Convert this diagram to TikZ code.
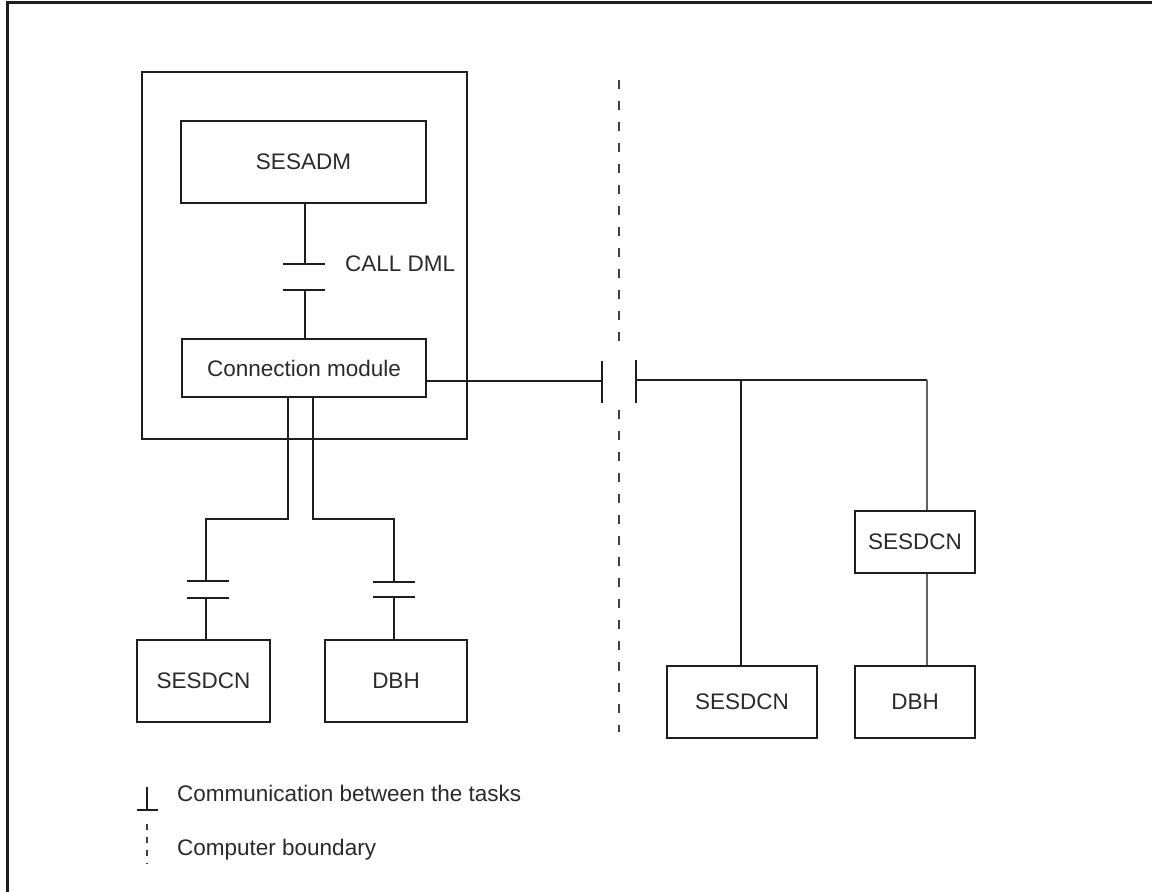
\documentclass[tikz,border=0pt]{standalone}
\usepackage{fontspec}
\setmainfont{Liberation Sans}
\usetikzlibrary{calc}
\definecolor{ink}{HTML}{1E1E1E}
\definecolor{txt}{HTML}{2A2A2A}
\tikzset{
  box/.style={draw=ink, line width=2.6pt, inner sep=0pt, text=txt,
    font=\fontsize{22.5}{27}\selectfont},
  wire/.style={draw=ink, line width=2.6pt},
  thinwire/.style={draw=ink!70, line width=1.7pt},
  bar/.style={draw=ink, line width=2.8pt},
  boundary/.style={draw=ink!85, line width=2.4pt, dash pattern=on 9pt off 12pt},
  lbl/.style={text=txt, font=\fontsize{22.5}{27}\selectfont, inner sep=0pt}
}
\begin{document}
\begin{tikzpicture}[x=1pt,y=-1pt]
\useasboundingbox (0,0) rectangle (1152,892);
% page frame
\draw[ink, line width=3pt] (7,900) -- (7,2) -- (1160,2);

% host computer with its tasks
\node[box, minimum width=325pt, minimum height=367pt] (host) at (304.5,255.5) {};
\node[box, minimum width=245pt, minimum height=82pt] (adm) at (303.5,162) {SESADM};
\node[box, minimum width=244pt, minimum height=58pt] (conn) at (304,368) {Connection module};
\node[box, minimum width=133pt, minimum height=82pt] (sesL) at (203.5,681) {SESDCN};
\node[box, minimum width=142pt, minimum height=82pt] (dbhL) at (396,681) {DBH};

% remote computer
\node[box, minimum width=120pt, minimum height=62pt] (sesM) at (915,542) {SESDCN};
\node[box, minimum width=150pt, minimum height=72pt] (sesR) at (742,702) {SESDCN};
\node[box, minimum width=120pt, minimum height=72pt] (dbhR) at (915,702) {DBH};

% CALL DML link
\coordinate (a1) at (305,264);
\coordinate (a2) at (305,290);
\draw[wire] (adm.south -| a1) -- (a1);
\draw[bar] ([xshift=-22pt]a1) -- ([xshift=20pt]a1);
\draw[bar] ([xshift=-22pt]a2) -- ([xshift=20pt]a2);
\draw[wire] (a2) -- (conn.north -| a2);
\node[lbl, anchor=west] (calldml) at (345,264) {CALL DML};

% links down to the local SESDCN and DBH
\coordinate (dL) at (288,519);
\coordinate (dR) at (313,519);
\coordinate (l1) at (206,581);
\coordinate (l2) at (206,598);
\coordinate (r1) at (394,582);
\coordinate (r2) at (394,597);
\draw[wire] (conn.south -| dL) -- (dL) -| (l1);
\draw[wire] (conn.south -| dR) -- (dR) -| (r1);
\draw[bar] ([xshift=-19pt]l1) -- ([xshift=23pt]l1);
\draw[bar] ([xshift=-19pt]l2) -- ([xshift=23pt]l2);
\draw[bar] ([xshift=-21pt]r1) -- ([xshift=21pt]r1);
\draw[bar] ([xshift=-21pt]r2) -- ([xshift=21pt]r2);
\draw[wire] (l2) -- (sesL.north -| l2);
\draw[wire] (r2) -- (dbhL.north -| r2);

% link across the computer boundary
\coordinate (tL) at (602,381);
\coordinate (tR) at (636,380);
\coordinate (jM) at (741,380);
\coordinate (jR) at (927,380);
\draw[wire] (conn.east |- tL) -- (tL);
\draw[bar] ([yshift=-22pt]tL) -- ([yshift=20pt]tL);
\draw[bar] ([yshift=-23pt]tR) -- ([yshift=20pt]tR);
\draw[wire] (tR) -- (jR);
\draw[wire] (jM) -- (sesR.north -| jM);
\draw[thinwire] (jR) -- (sesM.north -| jR);
\draw[thinwire] (sesM.south -| jR) -- (dbhR.north -| jR);

% computer boundary
\coordinate (b1) at (619,80);
\coordinate (b2) at (619,341);
\coordinate (b3) at (619,410);
\coordinate (b4) at (619,732);
\draw[boundary] (b1) -- (b2);
\draw[boundary] (b3) -- (b4);

% legend
\coordinate (k1) at (147,787);
\coordinate (k2) at (147,810);
\draw[wire] (k1) -- (k2);
\draw[bar] ([xshift=-10pt]k2) -- ([xshift=11pt]k2);
\node[lbl, anchor=west] (kc) at (177,793) {Communication between the tasks};
\coordinate (k3) at (147,824);
\coordinate (k4) at (147,864);
\draw[ink!85, line width=2.4pt, dash pattern=on 6pt off 7pt] (k3) -- (k4);
\node[lbl, anchor=west] (kb) at (177,850) {Computer boundary};
\end{tikzpicture}
\end{document}
